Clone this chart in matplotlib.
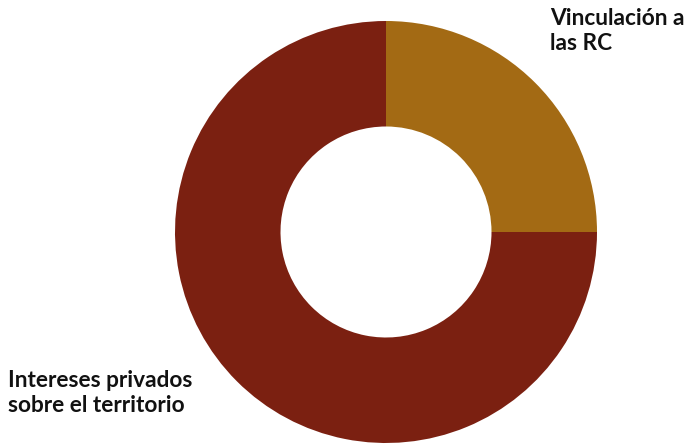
import matplotlib.pyplot as plt

labels = ["Vinculación a\nlas RC", "Intereses privados\nsobre el territorio"]
values = [25, 75]
colors = ["#A36A14", "#7B2011"]

plt.rcParams['font.family'] = ['Lato', 'DejaVu Sans']

fig = plt.figure(figsize=(6.85, 4.44), dpi=100)
ax = fig.add_axes([175 / 685, 1 / 444, 422 / 685, 422 / 444])
ax.pie(values, colors=colors, startangle=90, counterclock=False, radius=1,
       wedgeprops=dict(width=0.5, linewidth=0))
ax.set_xlim(-1, 1)
ax.set_ylim(-1, 1)
ax.set_aspect('equal')
ax.axis('off')

fig.text(550 / 685, 1 - 8 / 444, labels[0], ha='left', va='top',
         fontsize=16.3, fontweight='bold', color='#111111', linespacing=1.25)
fig.text(8 / 685, 1 - 370 / 444, labels[1], ha='left', va='top',
         fontsize=16.3, fontweight='bold', color='#111111', linespacing=1.25)

fig.savefig("out.png", dpi=100)
